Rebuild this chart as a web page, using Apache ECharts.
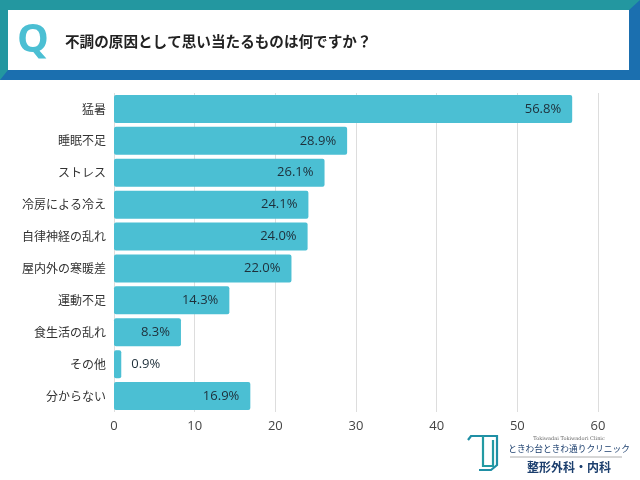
<!DOCTYPE html>
<html><head><meta charset="utf-8">
<script src="https://cdn.jsdelivr.net/npm/echarts@6/dist/echarts.min.js"></script>
<style>html,body{margin:0;padding:0;background:#fff}#c{width:640px;height:480px}</style>
</head><body><div id="c"></div>
<script>
const categories = ['猛暑','睡眠不足','ストレス','冷房による冷え','自律神経の乱れ','屋内外の寒暖差','運動不足','食生活の乱れ','その他','分からない'];
const values = [56.8, 28.9, 26.1, 24.1, 24.0, 22.0, 14.3, 8.3, 0.9, 16.9];
const xTicks = [0, 10, 20, 30, 40, 50, 60];
const titleText = '不調の原因として思い当たるものは何ですか？';

const font = '"Noto Sans CJK JP", "Noto Sans", sans-serif';
const numFont = '"Open Sans", "Noto Sans", sans-serif';
const chart = echarts.init(document.getElementById('c'));
chart.setOption({
  animation: false,
  grid: { left: 114, right: 42, top: 93, bottom: 68 },
  xAxis: {
    type: 'value', min: xTicks[0], max: xTicks[xTicks.length-1], interval: 10,
    axisLine: { show: false }, axisTick: { show: false },
    splitLine: { lineStyle: { color: '#dddddd' } },
    axisLabel: { color: '#444', fontSize: 13, fontFamily: numFont, margin: 8 }
  },
  yAxis: {
    type: 'category', data: categories, inverse: true,
    axisLine: { show: false }, axisTick: { show: false },
    axisLabel: { color: '#333', fontSize: 12, fontFamily: font, margin: 8 }
  },
  series: [{
    type: 'bar', barWidth: 28,
    data: values.map(v => ({
      value: v,
      label: v < 3 ? { position: 'right', distance: 10 } : undefined
    })),
    itemStyle: { color: '#4bbfd3', borderRadius: 2 },
    label: {
      show: true, position: 'insideRight', distance: 11,
      formatter: p => p.value.toFixed(1) + '%',
      color: '#1e2f3a', fontSize: 13, fontFamily: numFont
    }
  }],
  graphic: [
    { type: 'rect', shape: { x: 0, y: 0, width: 640, height: 80 }, style: { fill: '#1b6faf' }, silent: true },
    { type: 'polygon', shape: { points: [[0,0],[640,0],[629,10],[8,10],[8,70],[0,80]] }, style: { fill: '#2397a0' }, silent: true },
    { type: 'rect', shape: { x: 8, y: 10, width: 621, height: 60 }, style: { fill: '#ffffff' }, silent: true },
    { type: 'text', x: 17, y: 41, style: { text: 'Q', fill: '#4bbfd3', font: 'bold 40px "Open Sans", "Noto Sans", sans-serif', verticalAlign: 'middle' }, silent: true },
    { type: 'text', x: 65, y: 41, style: { text: titleText, fill: '#222', font: 'bold 14.6px ' + font, verticalAlign: 'middle' }, silent: true },
    // logo icon
    { type: 'polyline', shape: { points: [[468,440],[471,436],[497,436],[497,465],[491,470],[479,470]] }, style: { stroke: '#1f8fa5', lineWidth: 2.2, fill: null }, silent: true },
    { type: 'polyline', shape: { points: [[483,436],[483,466],[493,466],[493,440]] }, style: { stroke: '#239aa3', lineWidth: 2.2, fill: null }, silent: true },
    { type: 'text', x: 569, y: 439, style: { text: 'Tokiwadai Tokiwadori Clinic', fill: '#666', font: '5px "DejaVu Serif", serif', align: 'center', verticalAlign: 'middle' }, silent: true },
    { type: 'text', x: 569, y: 449, style: { text: 'ときわ台ときわ通りクリニック', fill: '#1c3f6e', font: '8.7px ' + font, align: 'center', verticalAlign: 'middle' }, silent: true },
    { type: 'line', shape: { x1: 510, y1: 457, x2: 622, y2: 457 }, style: { stroke: '#999', lineWidth: 0.8 }, silent: true },
    { type: 'text', x: 569, y: 467, style: { text: '整形外科・内科', fill: '#1c3f6e', font: 'bold 12px ' + font, align: 'center', verticalAlign: 'middle' }, silent: true }
  ]
});
</script></body></html>
